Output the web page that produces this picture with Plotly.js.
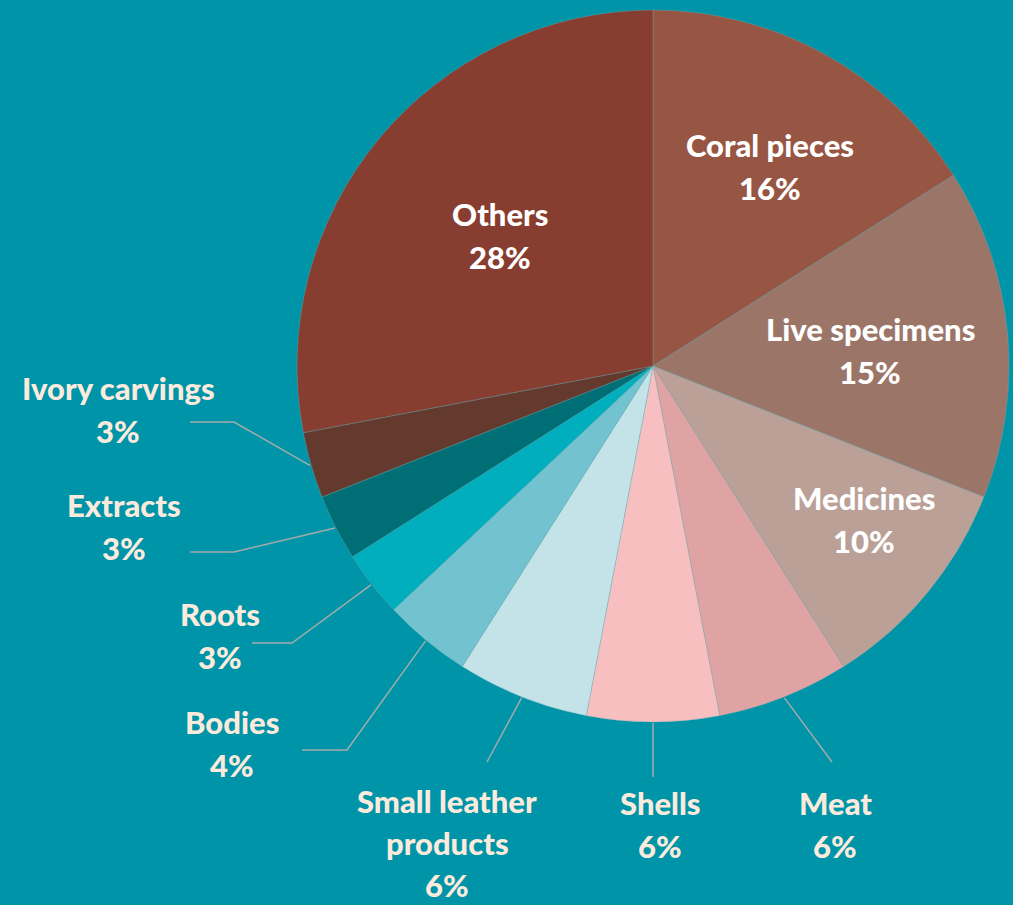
<!DOCTYPE html>
<html>
<head>
<meta charset="utf-8">
<script src="https://cdn.plot.ly/plotly-3.0.1.min.js"></script>
<style>html,body{margin:0;padding:0;background:#0094A8;}#chart{width:1013px;height:905px;}</style>
</head>
<body>
<div id="chart"></div>
<script>
// ---- data ----
const categories = ['Coral pieces','Live specimens','Medicines','Meat','Shells','Small leather products','Bodies','Roots','Extracts','Ivory carvings','Others'];
const shares = [16, 15, 10, 6, 6, 6, 4, 3, 3, 3, 28];
const sliceColors = ['#975544','#9B7668','#BAA097','#E0A3A4','#F8BFC0','#C4E3E8','#72C3CF','#00AEBD','#006F75','#643A2F','#873D2F'];

// ---- layout helpers (pixel space) ----
const W = 1013, H = 905;
const CX = 653, CY = 366, R = 356;
const BG = '#0094A8';

// label placement (pixel centers of first line), inside = white, outside = cream
const labelPlace = {
  'Coral pieces':           {x: 770, y: 145, inside: true},
  'Live specimens':         {x: 870, y: 329, inside: true},
  'Medicines':              {x: 864, y: 498, inside: true},
  'Others':                 {x: 500, y: 214, inside: true},
  'Ivory carvings':         {x: 118, y: 388, lead: [[234,422],[190,422]]},
  'Extracts':               {x: 124, y: 505, lead: [[234,552],[190,552]]},
  'Roots':                  {x: 220, y: 614, lead: [[292,643],[252,643]]},
  'Bodies':                 {x: 232, y: 722, lead: [[347,750],[302,750]]},
  'Small leather products': {x: 447, y: 801, gap: 42, lines: ['Small leather','products'], lead: [[487,762]]},
  'Shells':                 {x: 660, y: 803, lead: [[null,777]]},
  'Meat':                   {x: 835, y: 803, lead: [[832,762]]}
};

const total = shares.reduce((a,b)=>a+b,0);
const annotations = [];
const shapes = [];
let cum = 0;
categories.forEach((cat, i) => {
  const mid = (cum + shares[i]/2) / total * 2*Math.PI;  // clockwise from 12 o'clock
  cum += shares[i];
  const p = labelPlace[cat];
  const lines = (p.lines || [cat]).concat([shares[i] + '%']);
  const color = p.inside ? '#FFFFFF' : '#FCEBDC';
  const gap = p.gap || 43;
  lines.forEach((t, k) => {
    annotations.push({
      x: p.x, y: p.y + k*gap, xref: 'x', yref: 'y',
      text: t, showarrow: false,
      xanchor: 'center', yanchor: 'middle',
      font: {family: 'Lato, "Open Sans", sans-serif', size: 31, weight: 900, color: color}
    });
  });
  if (p.lead) {
    const sx = CX + (R + 1) * Math.sin(mid);
    const sy = CY - (R + 1) * Math.cos(mid);
    let path = 'M ' + sx.toFixed(1) + ' ' + sy.toFixed(1);
    p.lead.forEach(pt => {
      const lx = pt[0] === null ? sx : pt[0];
      path += ' L ' + lx + ' ' + pt[1];
    });
    shapes.push({type: 'path', xref: 'x', yref: 'y', path: path,
      line: {color: '#A3ABAC', width: 1.5}});
  }
});

const trace = {
  type: 'pie',
  labels: categories,
  values: shares,
  sort: false,
  direction: 'clockwise',
  rotation: 0,
  textinfo: 'none',
  hoverinfo: 'label+percent',
  marker: {colors: sliceColors, line: {color: 'rgba(120,170,175,0.6)', width: 0.6}},
  domain: {x: [(CX-R)/W, (CX+R)/W], y: [(H-CY-R)/H, (H-CY+R)/H]},
  showlegend: false
};

const layout = {
  width: W, height: H,
  margin: {l: 0, r: 0, t: 0, b: 0},
  paper_bgcolor: BG, plot_bgcolor: 'rgba(0,0,0,0)',
  xaxis: {range: [0, W], visible: false, fixedrange: true},
  yaxis: {range: [H, 0], visible: false, fixedrange: true},
  annotations: annotations,
  shapes: shapes,
  showlegend: false
};

Plotly.newPlot('chart', [trace], layout, {displayModeBar: false, staticPlot: true});
</script>
</body>
</html>
